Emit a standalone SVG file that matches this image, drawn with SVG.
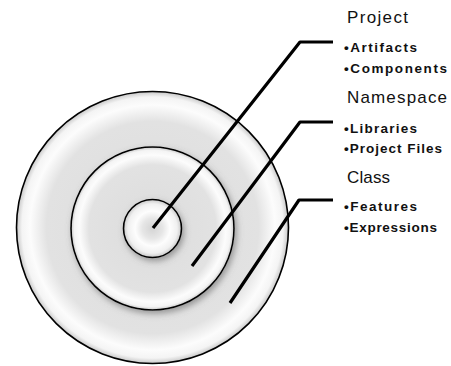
<svg xmlns="http://www.w3.org/2000/svg" width="451" height="366" viewBox="0 0 451 366">
  <style>
    .disc { stroke: #000; stroke-width: 1.6; }
    .conn { fill: none; stroke: #000; stroke-width: 3.2; stroke-linejoin: round; }
    .head { font-family: "Liberation Sans", Arial, sans-serif; font-size: 17px; fill: #111; }
    .bul { font-family: "Liberation Sans", Arial, sans-serif; font-size: 13.5px; font-weight: bold; fill: #111; }
  </style>
  <defs>
    <radialGradient id="gDisc" cx="0.5" cy="0.5" r="0.5">
      <stop offset="0" stop-color="#dcdcdc"/>
      <stop offset="0.78" stop-color="#e2e2e2"/>
      <stop offset="0.9" stop-color="#fcfcfc"/>
      <stop offset="0.96" stop-color="#f4f4f4"/>
      <stop offset="1" stop-color="#c8c8c8"/>
    </radialGradient>
    <radialGradient id="gInner" cx="0.5" cy="0.5" r="0.5">
      <stop offset="0" stop-color="#d4d4d4"/>
      <stop offset="0.35" stop-color="#e6e6e6"/>
      <stop offset="0.6" stop-color="#fdfdfd"/>
      <stop offset="0.85" stop-color="#f0f0f0"/>
      <stop offset="1" stop-color="#c8c8c8"/>
    </radialGradient>
    <filter id="shadow" x="-20%" y="-20%" width="150%" height="150%">
      <feDropShadow dx="2" dy="3" stdDeviation="3" flood-color="#666" flood-opacity="0.6"/>
    </filter>
  </defs>

  <g id="outer">
    <circle class="disc" cx="152.5" cy="227.5" r="136" fill="url(#gDisc)"/>
  </g>
  <g id="middle">
    <circle class="disc" cx="152.5" cy="228.5" r="81.5" fill="url(#gDisc)" filter="url(#shadow)"/>
  </g>
  <g id="inner">
    <circle class="disc" cx="152.5" cy="228.5" r="29" fill="url(#gInner)" filter="url(#shadow)"/>
  </g>

  <g id="connectors">
    <polyline class="conn" points="153,228 300,42 333,42"/>
    <polyline class="conn" points="192,266 300,122 333,122"/>
    <polyline class="conn" points="230,303 299,200 333,200"/>
  </g>

  <g id="project">
    <text class="head" x="347" y="23" textLength="61">Project</text>
    <text class="bul" x="344" y="52" textLength="73">•Artifacts</text>
    <text class="bul" x="344" y="73" textLength="103">•Components</text>
  </g>
  <g id="namespace">
    <text class="head" x="347" y="103" textLength="100">Namespace</text>
    <text class="bul" x="344" y="133" textLength="73">•Libraries</text>
    <text class="bul" x="344" y="153" textLength="98">•Project Files</text>
  </g>
  <g id="class">
    <text class="head" x="347" y="183" textLength="43">Class</text>
    <text class="bul" x="344" y="211" textLength="73">•Features</text>
    <text class="bul" x="344" y="232" textLength="93">•Expressions</text>
  </g>
</svg>
